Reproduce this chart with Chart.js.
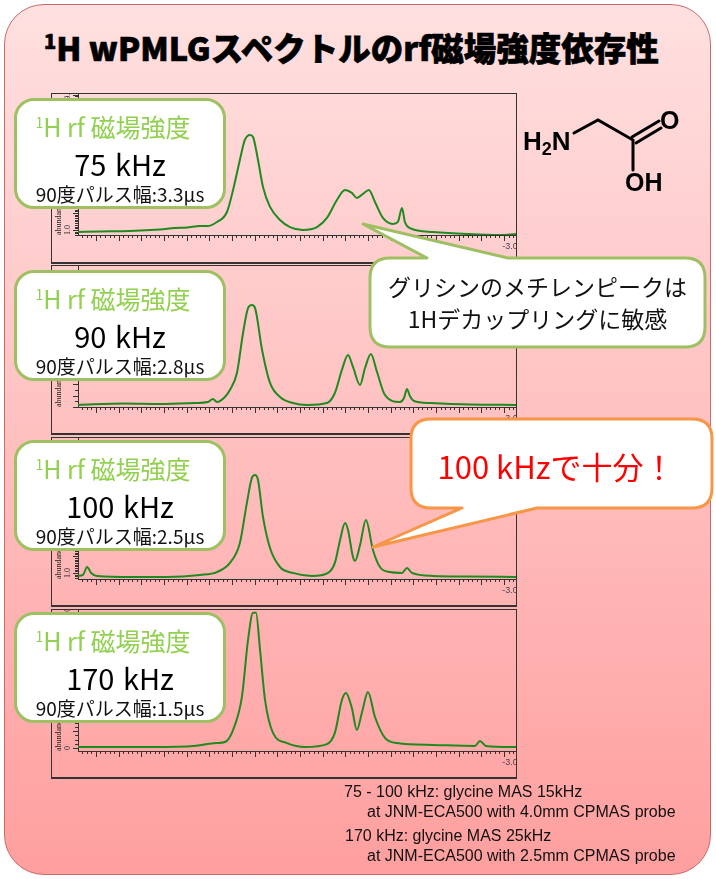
<!DOCTYPE html>
<html lang="ja">
<head>
<meta charset="utf-8">
<title>1H wPMLG</title>
<script src="https://cdn.jsdelivr.net/npm/chart.js@4"></script>
<style>
  html, body { margin: 0; padding: 0; background: #fff; }
  body { position: relative; width: 716px; height: 879px; overflow: hidden; font-family: "Noto Sans CJK JP", sans-serif; }
  #sheet { position: absolute; left: 4px; top: 4px; width: 705px; height: 869px; border: 1.5px solid #cc6a6a; border-radius: 40px; background: linear-gradient(#ffe0e0, #ff9f9f); }
  #title { position: absolute; left: 44px; top: 22px; white-space: nowrap; font-size: 32.5px; line-height: 50px; font-weight: 900; color: #000; -webkit-text-stroke: 0.7px #000; }
  #title sup { font-size: 20px; line-height: 0; }
  .frame { position: absolute; left: 51px; width: 464px; border: 1px solid #333; border-bottom-width: 2px; overflow: hidden; }
  .frame canvas { display: block; }
  .card { position: absolute; left: 14px; width: 206px; height: 105px; border: 3px solid #9fbf63; border-radius: 20px; background: #fff; text-align: center; white-space: nowrap; }
  .card div { position: absolute; left: 0; right: 0; }
  .card .field { top: 8px; font-size: 25px; line-height: 34px; color: #92d050; left: -14px; }
  .card .field sup { font-size: 14px; line-height: 0; }
  .card .power { top: 43px; font-size: 29px; line-height: 38px; color: #000; word-spacing: 2px; }
  .card .pulse { top: 80px; font-size: 19px; line-height: 26px; color: #111; }
  svg { position: absolute; left: 0; top: 0; }
  .note { position: absolute; font-size: 23px; line-height: 32px; text-align: center; white-space: nowrap; color: #111; }
  #foot { position: absolute; font-family: "Liberation Sans", sans-serif; font-size: 16px; color: #111; white-space: nowrap; }
  #foot div { position: absolute; }
</style>
</head>
<body>
<div id="sheet"></div>
<div id="title"><sup>1</sup>H wPMLGスペクトルのrf磁場強度依存性</div>
<div id="panels"></div>

<svg width="716" height="879">
  <path d="M363 224 L427 258 H390 Q370 258 370 278 V327 Q370 347 390 347 H685 Q705 347 705 327 V278 Q705 258 685 258 H508 Z" fill="#fff" stroke="#9fbf63" stroke-width="3" stroke-linejoin="round"/>
  <path d="M373 547 L462 508 H431 Q411 508 411 488 V439 Q411 419 431 419 H692 Q712 419 712 439 V488 Q712 508 692 508 H537 Z" fill="#fff" stroke="#f79646" stroke-width="3" stroke-linejoin="round"/>
  <!-- glycine -->
  <g stroke="#000" stroke-width="3" fill="none" stroke-linecap="round">
    <path d="M574 133 L598 120 L633 140 L633 170"/>
    <path d="M632 137 L659 121"/>
    <path d="M636 143 L661 128"/>
  </g>
  <g font-family="Liberation Sans, sans-serif" font-weight="700" fill="#000">
    <text x="523" y="150" font-size="26">H<tspan font-size="18" dy="5">2</tspan><tspan dy="-5">N</tspan></text>
    <text x="660" y="129" font-size="25">O</text>
    <text x="625" y="191" font-size="25">OH</text>
  </g>
</svg>

<div class="note" style="left:370px;top:270px;width:335px">グリシンのメチレンピークは<br>1Hデカップリングに敏感</div>
<div class="note" style="left:411px;top:442px;width:290px;font-size:31px;line-height:48px;color:#ff0000">100 kHzで十分！</div>

<div id="foot">
  <div style="left:344px;top:783px">75 - 100 kHz: glycine MAS 15kHz</div>
  <div style="left:367px;top:803px">at JNM-ECA500 with 4.0mm CPMAS probe</div>
  <div style="left:345px;top:827px">170 kHz: glycine MAS 25kHz</div>
  <div style="left:367px;top:847px">at JNM-ECA500 with 2.5mm CPMAS probe</div>
</div>

<script>
// peak traces: x in ppm, y in abundance
const ppm75 = [15.79, 14.82, 13.50, 12.17, 11.51, 10.98, 10.41, 10.10, 9.66, 9.22, 8.95, 8.65, 8.43, 8.20, 8.07, 7.85, 7.63, 7.32, 6.88, 6.44, 5.87, 5.25, 4.81, 4.37, 4.01, 3.71, 3.49, 3.22, 2.96, 2.69, 2.34, 1.90, 1.68, 1.50, 1.37, 1.15, 0.13, -1.37, -2.82, -3.53];
const abundance75 = [0.88, 0.91, 0.94, 1.03, 1.11, 1.14, 1.23, 1.23, 1.47, 2.06, 3.36, 5.14, 6.32, 6.62, 6.50, 5.14, 3.54, 2.36, 1.59, 1.17, 1.00, 1.17, 1.71, 2.77, 3.36, 3.19, 2.89, 3.13, 3.36, 2.65, 1.71, 1.35, 1.47, 2.30, 1.47, 1.11, 0.88, 0.76, 0.70, 0.76];

const ppm90 = [15.79, 13.72, 12.17, 10.63, 10.06, 9.84, 9.66, 9.31, 9.09, 8.78, 8.51, 8.29, 8.12, 7.98, 7.67, 7.32, 6.88, 6.31, 5.69, 4.81, 4.46, 4.15, 3.88, 3.66, 3.35, 3.13, 2.87, 2.60, 2.25, 1.59, 1.41, 1.28, 1.15, 0.97, 0.26, -1.50, -3.53];
const abundance90 = [0.18, 0.31, 0.26, 0.35, 0.44, 0.70, 0.44, 0.88, 1.49, 2.98, 6.49, 8.68, 8.95, 8.68, 5.00, 2.11, 0.88, 0.35, 0.18, 0.35, 1.23, 3.25, 4.56, 3.51, 1.93, 3.42, 4.65, 3.07, 1.05, 0.44, 0.79, 1.58, 0.96, 0.53, 0.35, 0.22, 0.18];

const ppm100 = [15.79, 15.57, 15.39, 15.21, 14.95, 13.37, 11.87, 10.41, 9.66, 9.09, 8.65, 8.34, 8.12, 7.98, 7.85, 7.63, 7.32, 6.88, 6.31, 5.47, 4.76, 4.46, 4.23, 4.01, 3.88, 3.66, 3.57, 3.35, 3.09, 2.78, 2.47, 2.03, 1.50, 1.28, 1.06, 0.13, -1.50, -3.53];
const abundance100 = [0.83, 0.89, 1.36, 1.01, 0.83, 0.77, 0.77, 0.89, 1.06, 1.60, 2.78, 5.15, 6.63, 6.80, 6.51, 4.32, 2.48, 1.36, 1.01, 0.83, 1.01, 1.60, 2.96, 3.96, 3.55, 1.95, 1.72, 2.66, 4.14, 2.37, 1.36, 1.06, 1.01, 1.30, 1.01, 0.83, 0.80, 0.77];

const ppm170 = [15.79, 13.37, 10.98, 9.66, 9.31, 8.95, 8.56, 8.29, 8.07, 7.94, 7.76, 7.54, 7.19, 6.57, 5.78, 4.81, 4.46, 4.15, 3.97, 3.71, 3.49, 3.26, 3.00, 2.69, 2.25, 1.72, 0.13, -1.72, -1.94, -2.20, -3.53];
const abundance170 = [0.06, 0.06, 0.09, 0.29, 0.35, 1.06, 3.02, 6.39, 7.99, 7.99, 5.80, 2.84, 0.89, 0.29, 0.06, 0.23, 0.89, 2.84, 3.25, 2.36, 1.06, 2.13, 3.31, 1.83, 0.59, 0.29, 0.18, 0.12, 0.41, 0.12, 0.06];

// text of the cards
const powerLabels = ["75 kHz", "90 kHz", "100 kHz", "170 kHz"];
const pulseLabels = ["90度パルス幅:3.3μs", "90度パルス幅:2.8μs", "90度パルス幅:2.5μs", "90度パルス幅:1.5μs"];

// axis of each spectrum
const ppmMin = -3.53, ppmMax = 15.79;
const ppmLabels = [-3];
const yMins = [0.7, 0, 0.65, -0.18];
const yMaxs = [9.04, 12.37, 8.99, 8.16];
const ySteps = [0.1, 0.5, 0.1, 0.25];
const yTickLabels = [[1, 9], [], [1], [0, 8]];

const traces = [[ppm75, abundance75], [ppm90, abundance90], [ppm100, abundance100], [ppm170, abundance170]];

// layout of each panel, in page pixels
const frameTops = [93, 265, 437, 609];
const frameHeights = [168, 167, 167, 167];
const axisBottoms = [235, 407, 579, 751];
const cardTops = [98, 270, 440, 612];

// major and minor ticks, longer every 1 ppm
const spectrumTicks = {
  id: "spectrumTicks",
  afterDraw(chart) {
    const { ctx } = chart;
    const x = chart.scales.x, y = chart.scales.y;
    ctx.save();
    ctx.strokeStyle = "#333";
    ctx.lineWidth = 1;
    ctx.beginPath();
    x.ticks.forEach(t => {
      const px = Math.round(x.getPixelForValue(t.value)) + 0.5;
      const major = Math.abs(t.value - Math.round(t.value)) < 0.01;
      ctx.moveTo(px, x.top);
      ctx.lineTo(px, x.top + (major ? 6 : 3));
    });
    y.ticks.forEach(t => {
      const py = Math.round(y.getPixelForValue(t.value)) + 0.5;
      const major = Math.abs(t.value - Math.round(t.value)) < 0.01;
      ctx.moveTo(y.right, py);
      ctx.lineTo(y.right - (major ? 5 : 3), py);
    });
    ctx.stroke();
    ctx.restore();
  }
};

const panels = document.getElementById("panels");

traces.forEach(([ppm, abundance], i) => {
  const frame = document.createElement("div");
  frame.className = "frame";
  frame.style.top = frameTops[i] + "px";
  frame.style.height = frameHeights[i] + "px";
  const canvas = document.createElement("canvas");
  canvas.width = 464;
  canvas.height = frameHeights[i];
  frame.appendChild(canvas);
  panels.appendChild(frame);

  const xAxisHeight = frameTops[i] + 1 + frameHeights[i] - axisBottoms[i];

  new Chart(canvas, {
    type: "line",
    data: {
      datasets: [{
        data: ppm.map((p, k) => ({ x: p, y: abundance[k] })),
        borderColor: "#1f8a1f",
        borderWidth: 2,
        pointRadius: 0,
        cubicInterpolationMode: "monotone"
      }]
    },
    options: {
      responsive: false,
      animation: false,
      layout: { padding: 0 },
      plugins: { legend: { display: false }, tooltip: { enabled: false } },
      scales: {
        x: {
          type: "linear",
          reverse: true,
          min: ppmMin,
          max: ppmMax,
          afterFit: s => { s.height = xAxisHeight; s.paddingLeft = 0; s.paddingRight = 0; },
          border: { display: true, color: "#333" },
          grid: { display: false, drawTicks: false },
          ticks: {
            stepSize: 0.2,
            autoSkip: false,
            includeBounds: false,
            maxRotation: 0,
            padding: 6,
            labelOffset: 6,
            color: "#445",
            font: { family: "Liberation Sans", size: 9 },
            callback: v => ppmLabels.some(l => Math.abs(l - v) < 0.01) ? v.toFixed(1) : ""
          }
        },
        y: {
          min: yMins[i],
          max: yMaxs[i],
          afterFit: s => { s.width = 26; s.paddingTop = 0; s.paddingBottom = 0; },
          border: { display: true, color: "#333" },
          grid: { display: false, drawTicks: false },
          title: {
            display: true,
            text: "abundance",
            align: "start",
            color: "#222",
            padding: { top: 2, bottom: 0 },
            font: { family: "Liberation Serif", size: 8 }
          },
          ticks: {
            stepSize: ySteps[i],
            autoSkip: false,
            includeBounds: false,
            minRotation: 90,
            maxRotation: 90,
            crossAlign: "center",
            padding: 5,
            color: "#222",
            font: { family: "Liberation Serif", size: 8 },
            callback: v => {
              const hit = yTickLabels[i].find(l => Math.abs(l - v) < 0.01);
              if (hit === undefined) return "";
              return hit === 0 ? "0" : hit.toFixed(1);
            }
          }
        }
      }
    },
    plugins: [spectrumTicks]
  });

  const card = document.createElement("div");
  card.className = "card";
  card.style.top = cardTops[i] + "px";
  card.innerHTML = '<div class="field"><sup>1</sup>H rf 磁場強度</div>'
    + '<div class="power"></div><div class="pulse"></div>';
  card.querySelector(".power").textContent = powerLabels[i];
  card.querySelector(".pulse").textContent = pulseLabels[i];
  panels.appendChild(card);
});
</script>
</body>
</html>
